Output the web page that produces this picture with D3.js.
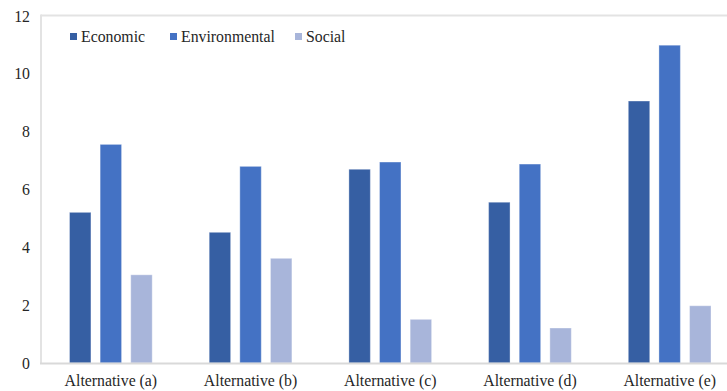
<!DOCTYPE html>
<html>
<head>
<meta charset="utf-8">
<script src="https://cdn.jsdelivr.net/npm/d3@7"></script>
<style>
  html, body { margin: 0; padding: 0; background: #fff; }
  svg { display: block; }
  text { font-family: "Liberation Serif", "Tinos", "Times New Roman", serif; fill: #262626; }
</style>
</head>
<body>
<svg id="chart" width="727" height="391"></svg>
<script>
// Categories and series values
const categories = ["Alternative (a)", "Alternative (b)", "Alternative (c)", "Alternative (d)", "Alternative (e)"];
const seriesNames = ["Economic", "Environmental", "Social"];
const economic = [5.21, 4.52, 6.70, 5.56, 9.06];
const environmental = [7.56, 6.80, 6.95, 6.88, 10.99];
const social = [3.05, 3.62, 1.51, 1.21, 1.98];
const yTicks = [0, 2, 4, 6, 8, 10, 12];
const colors = ["#365FA3", "#4472C4", "#A8B5DA"];

const seriesValues = [economic, environmental, social];
const FONT = "'Liberation Serif', 'Tinos', 'Times New Roman', serif";
const FONT_SIZE = 15.8;

const svg = d3.select("#chart");
const plot = { left: 41, right: 739.5, top: 16, bottom: 363 };

const y = d3.scaleLinear().domain([0, 12]).range([plot.bottom, plot.top]);

const x0 = d3.scaleBand()
  .domain(categories)
  .range([plot.left, plot.right])
  .paddingInner(0.408)
  .paddingOuter(0.204);

const x1 = d3.scaleBand()
  .domain(seriesNames)
  .range([0, x0.bandwidth()])
  .paddingInner(0.30)
  .paddingOuter(0);

// plot-area frame (top and left)
svg.append("line")
  .attr("x1", plot.left).attr("x2", 727)
  .attr("y1", plot.top - 0.5).attr("y2", plot.top - 0.5)
  .attr("stroke", "#e3e3e3").attr("stroke-width", 2);
svg.append("line")
  .attr("x1", plot.left).attr("x2", plot.left)
  .attr("y1", plot.top - 1.5).attr("y2", plot.bottom)
  .attr("stroke", "#e3e3e3").attr("stroke-width", 2);

// bars
const groups = svg.append("g").selectAll("g")
  .data(categories)
  .join("g")
  .attr("transform", d => `translate(${x0(d)},0)`);

groups.selectAll("rect")
  .data((d, i) => seriesNames.map((s, j) => ({ s, j, v: seriesValues[j][i] })))
  .join("rect")
  .attr("x", d => x1(d.s))
  .attr("width", x1.bandwidth())
  .attr("y", d => y(d.v))
  .attr("height", d => y(0) - y(d.v))
  .attr("fill", d => colors[d.j])
  .attr("stroke", "#ffffff")
  .attr("stroke-opacity", 0.35)
  .attr("stroke-width", 1);

// baseline
svg.append("line")
  .attr("x1", plot.left - 1).attr("x2", 727)
  .attr("y1", plot.bottom + 0.5).attr("y2", plot.bottom + 0.5)
  .attr("stroke", "#d9d9d9").attr("stroke-width", 2);

// y axis
const yAxis = svg.append("g")
  .attr("transform", `translate(${plot.left},0)`)
  .call(d3.axisLeft(y).tickValues(yTicks).tickSize(0).tickPadding(11));
yAxis.attr("font-family", FONT).attr("font-size", FONT_SIZE);
yAxis.select(".domain").remove();
yAxis.selectAll("text").attr("fill", "#262626");

// x axis
const xAxis = svg.append("g")
  .attr("transform", `translate(0,${plot.bottom})`)
  .call(d3.axisBottom(x0).tickSize(0).tickPadding(12));
xAxis.attr("font-family", FONT).attr("font-size", FONT_SIZE);
xAxis.select(".domain").remove();
xAxis.selectAll("text").attr("fill", "#262626");

// legend: swatch sits just left of each label
const legendItems = [
  { name: seriesNames[0], color: colors[0], x: 81 },
  { name: seriesNames[1], color: colors[1], x: 181 },
  { name: seriesNames[2], color: colors[2], x: 306 }
];
const legend = svg.append("g").attr("font-family", FONT).attr("font-size", FONT_SIZE);
legendItems.forEach(it => {
  legend.append("rect")
    .attr("x", it.x - 11).attr("y", 33)
    .attr("width", 7).attr("height", 7)
    .attr("fill", it.color);
  legend.append("text")
    .attr("x", it.x).attr("y", 42)
    .text(it.name);
});
</script>
</body>
</html>
